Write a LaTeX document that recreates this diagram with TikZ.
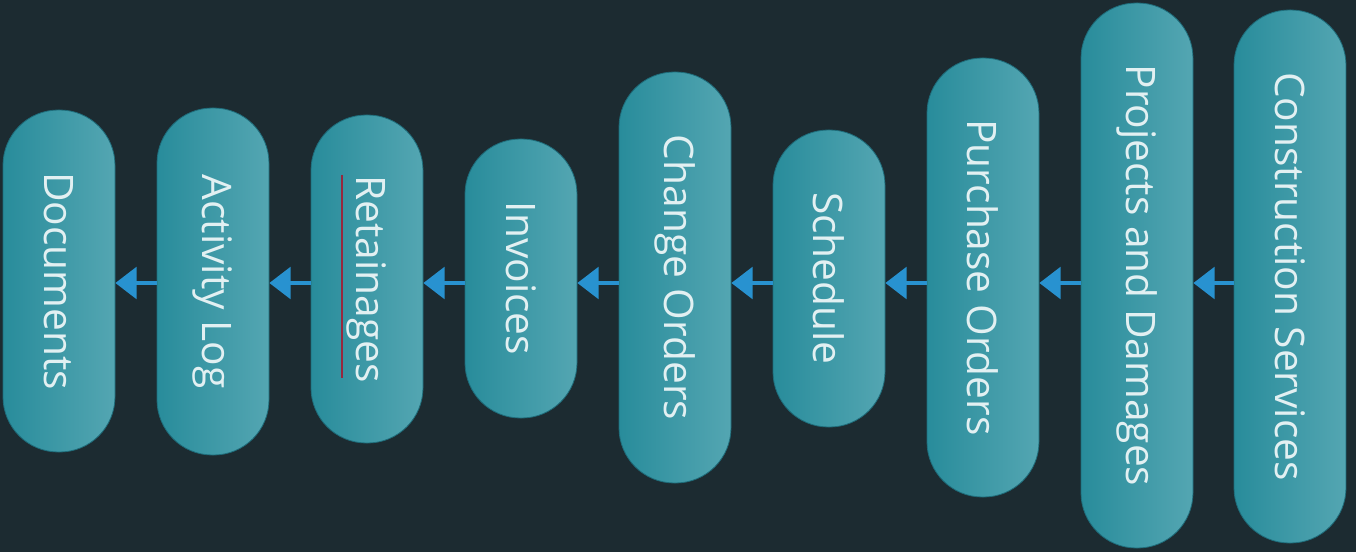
\documentclass[tikz,border=0pt]{standalone}
\usepackage{fontspec}
\setmainfont{Open Sans}
\usetikzlibrary{arrows.meta}
\definecolor{bg}{RGB}{28,43,49}
\definecolor{pillL}{RGB}{40,140,155}
\definecolor{pillR}{RGB}{84,166,178}
\definecolor{pillEdge}{RGB}{30,108,122}
\definecolor{txt}{RGB}{226,240,242}
\definecolor{arr}{RGB}{40,146,208}
\definecolor{squig}{RGB}{150,40,62}
\begin{document}
\begin{tikzpicture}[x=0.75pt,y=-0.75pt,
  pill/.style={rectangle, rounded corners=41.5pt, minimum width=84pt, inner sep=0pt,
    left color=pillL, right color=pillR, draw=pillEdge, line width=0.6pt,
    text=txt, font=\fontsize{30.5}{36}\selectfont},
  flow/.style={draw=arr, line width=2.3pt, -{Triangle[length=16pt,width=24pt]}}]
\fill[bg] (0,0) rectangle (1356,552);
\useasboundingbox (0,0) rectangle (1356,552);
\coordinate (ay) at (0,283);
\node[pill, minimum height=256.5pt] (doc) at (59,281) {\rotatebox{-90}{Documents}};
\node[pill, minimum height=260.25pt] (act) at (213,281.5) {\rotatebox{-90}{Activity Log}};
\node[pill, minimum height=246pt] (ret) at (367,279) {\rotatebox{-90}{Retainages}};
\node[pill, minimum height=209.25pt] (inv) at (521,278.5) {\rotatebox{-90}{Invoices}};
\node[pill, minimum height=308.25pt] (cho) at (675,277.5) {\rotatebox{-90}{Change Orders}};
\node[pill, minimum height=222.75pt] (sch) at (829,278.5) {\rotatebox{-90}{Schedule}};
\node[pill, minimum height=329.25pt] (puo) at (983,277.5) {\rotatebox{-90}{Purchase Orders}};
\node[pill, minimum height=408.75pt] (prj) at (1137,275.5) {\rotatebox{-90}{Projects and Damages}};
\node[pill, minimum height=399.75pt] (con) at (1290,276.5) {\rotatebox{-90}{Construction Services}};
\draw[squig, line width=1.2pt] ([shift={(-25,-104)}]ret.center) -- ([shift={(-25,99)}]ret.center);
\draw[flow] (con.west |- ay) -- (prj.east |- ay);
\draw[flow] (prj.west |- ay) -- (puo.east |- ay);
\draw[flow] (puo.west |- ay) -- (sch.east |- ay);
\draw[flow] (sch.west |- ay) -- (cho.east |- ay);
\draw[flow] (cho.west |- ay) -- (inv.east |- ay);
\draw[flow] (inv.west |- ay) -- (ret.east |- ay);
\draw[flow] (ret.west |- ay) -- (act.east |- ay);
\draw[flow] (act.west |- ay) -- (doc.east |- ay);
\end{tikzpicture}
\end{document}
